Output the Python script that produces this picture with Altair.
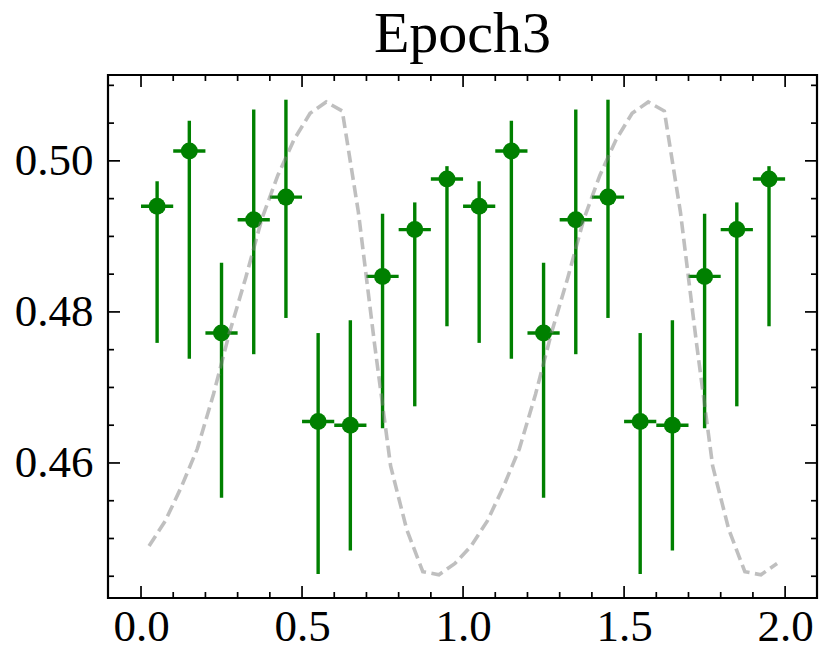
import altair as alt
import pandas as pd

# ---- data ----
x_pts = [0.05, 0.15, 0.25, 0.35, 0.45, 0.55, 0.65, 0.75, 0.85, 0.95,
         1.05, 1.15, 1.25, 1.35, 1.45, 1.55, 1.65, 1.75, 1.85, 1.95]
y_pts = [0.4940, 0.5013, 0.4772, 0.4922, 0.4952, 0.4655, 0.4650, 0.4847, 0.4909, 0.4976,
         0.4940, 0.5013, 0.4772, 0.4922, 0.4952, 0.4655, 0.4650, 0.4847, 0.4909, 0.4976]
y_low = [0.4759, 0.4738, 0.4554, 0.4744, 0.4792, 0.4453, 0.4484, 0.4646, 0.4675, 0.4781,
         0.4759, 0.4738, 0.4554, 0.4744, 0.4792, 0.4453, 0.4484, 0.4646, 0.4675, 0.4781]
y_high = [0.4973, 0.5053, 0.4865, 0.5068, 0.5081, 0.4772, 0.4789, 0.4930, 0.4945, 0.4993,
          0.4973, 0.5053, 0.4865, 0.5068, 0.5081, 0.4772, 0.4789, 0.4930, 0.4945, 0.4993]
x_err = [0.05] * 20

line_x = [0.025, 0.075, 0.125, 0.175, 0.225, 0.275, 0.325, 0.375, 0.425, 0.475,
          0.525, 0.575, 0.625, 0.675, 0.725, 0.775, 0.825, 0.875, 0.925, 0.975,
          1.025, 1.075, 1.125, 1.175, 1.225, 1.275, 1.325, 1.375, 1.425, 1.475,
          1.525, 1.575, 1.625, 1.675, 1.725, 1.775, 1.825, 1.875, 1.925, 1.975]
line_y = [0.4490, 0.4523, 0.4568, 0.4619, 0.4691, 0.4773, 0.4845, 0.4923, 0.4981, 0.5028,
          0.5063, 0.5078, 0.5066, 0.4932, 0.4758, 0.4596, 0.4512, 0.4456, 0.4452, 0.4467,
          0.4490, 0.4523, 0.4568, 0.4619, 0.4691, 0.4773, 0.4845, 0.4923, 0.4981, 0.5028,
          0.5063, 0.5078, 0.5066, 0.4932, 0.4758, 0.4596, 0.4512, 0.4456, 0.4452, 0.4467]

x_major = [0.0, 0.5, 1.0, 1.5, 2.0]
x_minor = [0.1, 0.2, 0.3, 0.4, 0.6, 0.7, 0.8, 0.9, 1.1, 1.2, 1.3, 1.4, 1.6, 1.7, 1.8, 1.9]
y_major = [0.46, 0.48, 0.50]
y_minor = [0.445, 0.45, 0.455, 0.465, 0.47, 0.475, 0.485, 0.49, 0.495, 0.505, 0.51]

title_text = "Epoch3"

# ---- layout ----
W, H = 709, 523
X_DOM = [-0.1025, 2.099]
Y_DOM = [0.44212, 0.51137]
FONT = "Liberation Serif"
GREEN = "#008000"

pts = pd.DataFrame({"x": x_pts, "y": y_pts, "lo": y_low, "hi": y_high, "xe": x_err})
pts["xl"] = pts["x"] - pts["xe"]
pts["xr"] = pts["x"] + pts["xe"]
line_df = pd.DataFrame({"x": line_x, "y": line_y})

xs = alt.Scale(domain=X_DOM, nice=False, zero=False)
ys = alt.Scale(domain=Y_DOM, nice=False, zero=False)

x_axis = alt.Axis(values=x_major, format=".1f", ticks=False, tickSize=0, domain=False,
                  grid=False, labelFont=FONT, labelFontSize=45, labelColor="black",
                  labelPadding=6, title=None, labelFlush=False)
y_axis = alt.Axis(values=y_major, format=".2f", ticks=False, tickSize=0, domain=False,
                  grid=False, labelFont=FONT, labelFontSize=45, labelColor="black",
                  labelPadding=15, title=None)

base = alt.Chart(pts)

vbars = base.mark_rule(color=GREEN, strokeWidth=3.4).encode(
    x=alt.X("x:Q", scale=xs, axis=x_axis),
    y=alt.Y("lo:Q", scale=ys, axis=y_axis),
    y2="hi:Q",
)
hbars = base.mark_rule(color=GREEN, strokeWidth=3.4).encode(
    x=alt.X("xl:Q", scale=xs, axis=x_axis),
    x2="xr:Q",
    y=alt.Y("y:Q", scale=ys, axis=y_axis),
)
dots = base.mark_circle(color=GREEN, opacity=1, size=290).encode(
    x=alt.X("x:Q", scale=xs, axis=x_axis),
    y=alt.Y("y:Q", scale=ys, axis=y_axis),
)
line = alt.Chart(line_df).mark_line(color="gray", opacity=0.5, strokeWidth=3.6,
                                    strokeDash=[12, 5.5]).encode(
    x=alt.X("x:Q", scale=xs, axis=x_axis),
    y=alt.Y("y:Q", scale=ys, axis=y_axis),
)

def xticks(vals, length):
    d = pd.DataFrame({"t": vals})
    bot = alt.Chart(d).mark_rule(color="black", strokeWidth=1.7).encode(
        x=alt.X("t:Q", scale=xs, axis=x_axis), y=alt.value(H), y2=alt.value(H - length))
    top = alt.Chart(d).mark_rule(color="black", strokeWidth=1.7).encode(
        x=alt.X("t:Q", scale=xs, axis=x_axis), y=alt.value(0), y2=alt.value(length))
    return [bot, top]

def yticks(vals, length):
    d = pd.DataFrame({"t": vals})
    left = alt.Chart(d).mark_rule(color="black", strokeWidth=1.7).encode(
        y=alt.Y("t:Q", scale=ys, axis=y_axis), x=alt.value(0), x2=alt.value(length))
    right = alt.Chart(d).mark_rule(color="black", strokeWidth=1.7).encode(
        y=alt.Y("t:Q", scale=ys, axis=y_axis), x=alt.value(W), x2=alt.value(W - length))
    return [left, right]

tick_layers = xticks(x_major, 12) + xticks(x_minor, 6) + yticks(y_major, 12) + yticks(y_minor, 6)

chart = alt.layer(vbars, hbars, dots, line, *tick_layers).properties(
    width=W, height=H,
    background="white",
    title=alt.TitleParams(title_text, font=FONT, fontSize=58, fontWeight="normal",
                          color="black", baseline="alphabetic", offset=-36,
                          anchor="middle"),
    autosize=alt.AutoSizeParams(type="none"),
    padding={"left": 100, "top": 67, "right": 5, "bottom": 60},
).configure_view(stroke="black", strokeWidth=2.2)

chart.save("out.html", embed_options={"renderer": "svg", "actions": False})
